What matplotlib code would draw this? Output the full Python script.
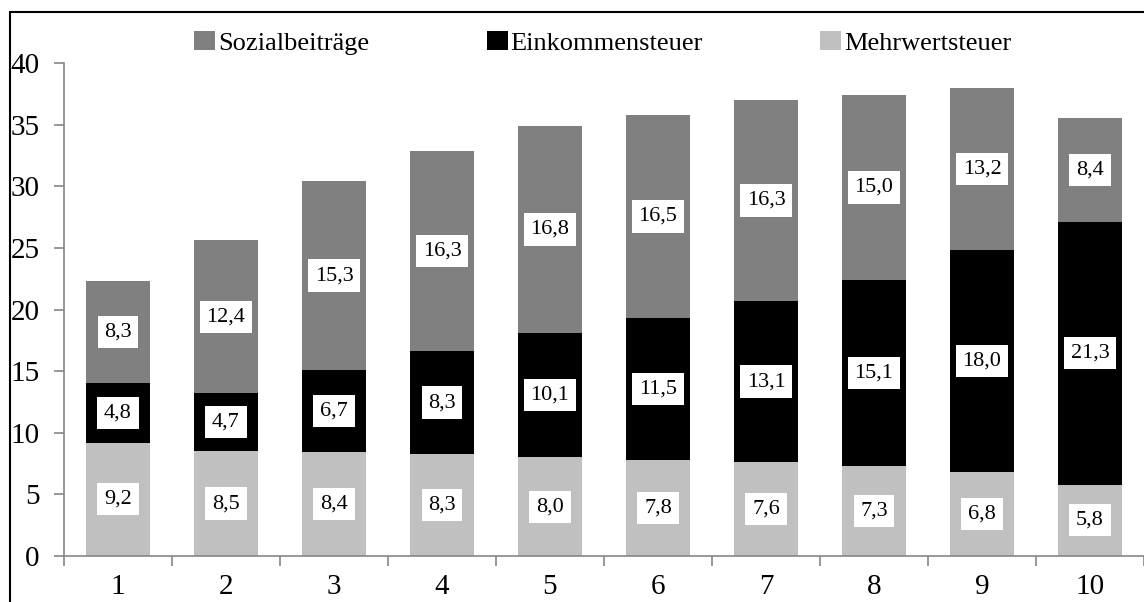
import numpy as np
import matplotlib
matplotlib.use("Agg")
import matplotlib.pyplot as plt
from matplotlib.patches import Rectangle

plt.rcParams["font.family"] = ["Liberation Serif", "DejaVu Serif"]

categories = ["1", "2", "3", "4", "5", "6", "7", "8", "9", "10"]
mehrwertsteuer = [9.2, 8.5, 8.4, 8.3, 8.0, 7.8, 7.6, 7.3, 6.8, 5.8]
einkommensteuer = [4.8, 4.7, 6.7, 8.3, 10.1, 11.5, 13.1, 15.1, 18.0, 21.3]
sozialbeitraege = [8.3, 12.4, 15.3, 16.3, 16.8, 16.5, 16.3, 15.0, 13.2, 8.4]

series = [
    ("Mehrwertsteuer", mehrwertsteuer, "#c0c0c0"),
    ("Einkommensteuer", einkommensteuer, "#000000"),
    ("Sozialbeiträge", sozialbeitraege, "#808080"),
]

W, H = 1144, 602
fig = plt.figure(figsize=(W / 100, H / 100), dpi=100)
ax = fig.add_axes([64 / W, (H - 556) / H, (W - 64) / W, (556 - 63) / H])

x = np.arange(len(categories))
bottom = np.zeros(len(categories))
bars = {}
for name, vals, col in series:
    vals = np.array(vals)
    bars[name] = ax.bar(x, vals, 0.6, bottom=bottom, color=col, label=name)
    for xi, b, v in zip(x, bottom, vals):
        ax.text(xi, b + v / 2, f"{v:.1f}".replace(".", ","), ha="center",
                va="center", fontsize=16,
                bbox=dict(boxstyle="square,pad=0.3", fc="white", ec="none"))
    bottom = bottom + vals

ax.set_xlim(-0.5, len(categories) - 0.5)
ax.set_ylim(0, 40)
ax.set_yticks(range(0, 41, 5))
ax.set_xticks(x)
ax.set_xticklabels(categories)
ax.set_xticks(np.arange(-0.5, len(categories)), minor=True)
ax.tick_params(axis="x", which="major", length=0, pad=13, labelsize=21)
ax.tick_params(axis="x", which="minor", length=7, color="#868686", width=1.2)
ax.tick_params(axis="y", length=7, color="#868686", width=1.2, pad=10.5,
               labelsize=21)
for s in ["top", "right"]:
    ax.spines[s].set_visible(False)
for s in ["left", "bottom"]:
    ax.spines[s].set_color("#868686")
    ax.spines[s].set_linewidth(1.2)

h = [bars["Sozialbeiträge"], bars["Einkommensteuer"], bars["Mehrwertsteuer"]]
fig.legend(h, ["Sozialbeiträge", "Einkommensteuer", "Mehrwertsteuer"],
           ncol=3, loc="center left", bbox_to_anchor=(181 / W, 1 - 43 / H),
           frameon=False, fontsize=19, handlelength=0.8, handleheight=0.75,
           handletextpad=0.1, columnspacing=4.45, borderpad=0)

fig.patches.append(Rectangle((10 / W, -0.05), 1.1, 1 - 12 / H + 0.05,
                             transform=fig.transFigure, fill=False,
                             ec="black", lw=1.5))

fig.savefig("out.png", dpi=100)
